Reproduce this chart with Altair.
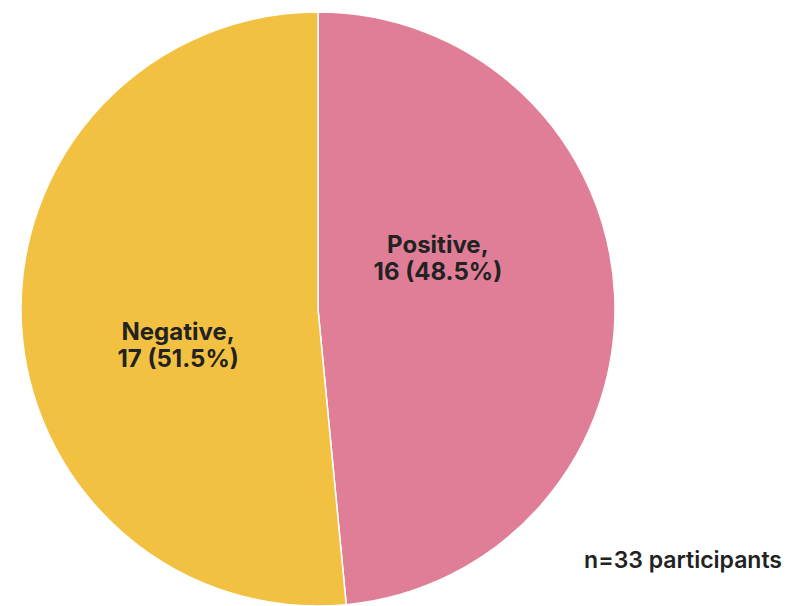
import altair as alt
import pandas as pd

categories = ["Positive", "Negative"]
counts = [16, 17]
percents = ["48.5", "51.5"]
stack_order = [0, 1]
colors = ["#E07E97", "#F2C142"]
note = "n=33 participants"

labels = [f"{c},\n{n} ({p}%)" for c, n, p in zip(categories, counts, percents)]
df = pd.DataFrame({
    "category": categories,
    "count": counts,
    "label": labels,
    "ord": stack_order,
})

FONT = "Inter"
TEXT_COLOR = "#222222"

base = alt.Chart(df).encode(
    theta=alt.Theta("count:Q", stack=True),
    order=alt.Order("ord:Q"),
)

arc = base.mark_arc(stroke="white", strokeWidth=1.5).encode(
    color=alt.Color("category:N", scale=alt.Scale(domain=categories, range=colors), legend=None)
)

def label_layer(cat, radius, dy):
    return base.mark_text(
        radius=radius, dy=dy, lineBreak="\n", lineHeight=27,
        font=FONT, fontSize=24, fontWeight="bold", color=TEXT_COLOR,
        align="center", baseline="middle",
    ).encode(
        text=alt.condition(alt.datum.category == cat, alt.Text("label:N"), alt.value(""))
    )

pos_text = label_layer("Positive", 120, -57)
neg_text = label_layer("Negative", 140, 17)

note_text = alt.Chart(pd.DataFrame({"t": [note]})).mark_text(
    align="right", baseline="alphabetic", font=FONT, fontSize=23,
    fontWeight=600, color=TEXT_COLOR,
).encode(x=alt.value(782), y=alt.value(556), text="t:N")

chart = alt.layer(arc, pos_text, neg_text, note_text).properties(
    width=636, height=594,
    padding={"left": 0, "top": 12, "right": 153, "bottom": 0},
    autosize="none",
).configure_view(strokeWidth=0)

chart.save("out.html", embed_options={"renderer": "svg", "actions": False})
